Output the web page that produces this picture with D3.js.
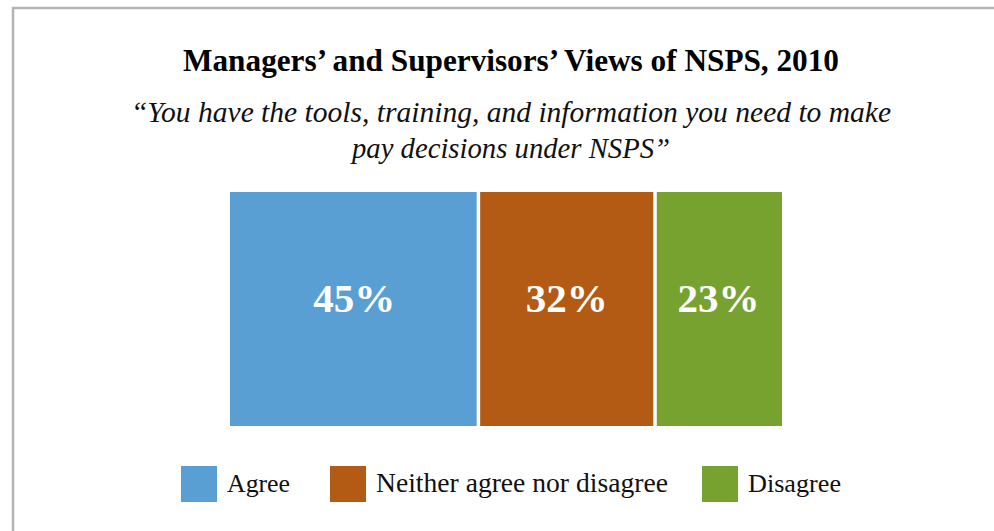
<!DOCTYPE html>
<html>
<head>
<meta charset="utf-8">
<script src="https://cdn.jsdelivr.net/npm/d3@7"></script>
<style>
  html, body { margin: 0; padding: 0; background: #fff; }
  svg { display: block; }
  text { font-family: "Liberation Serif", "Times New Roman", serif; }
</style>
</head>
<body>
<svg id="chart" width="994" height="531"></svg>
<script>
const titleText = "Managers\u2019 and Supervisors\u2019 Views of NSPS, 2010";
const subtitleLines = ["\u201CYou have the tools, training, and information you need to make", "pay decisions under NSPS\u201D"];
const categories = ["Agree", "Neither agree nor disagree", "Disagree"];
const values = [45, 32, 23];
const valueLabels = ["45%", "32%", "23%"];
const colors = ["#599fd4", "#b35b14", "#78a22f"];

const svg = d3.select("#chart");

// frame
svg.append("rect").attr("x", 13).attr("y", 8).attr("width", 1100).attr("height", 700)
  .attr("fill", "#fff").attr("stroke", "#b3b4b6").attr("stroke-width", 2.5);

function fit(sel, target) {
  let fs = parseFloat(sel.attr("font-size"));
  for (let i = 0; i < 4; i++) {
    const w = sel.node().getComputedTextLength();
    fs = fs * target / w;
    sel.attr("font-size", fs);
  }
}

const cx = 511;
const t = svg.append("text").attr("x", cx).attr("y", 71).attr("text-anchor", "middle")
  .attr("font-weight", "bold").attr("font-size", 28).attr("fill", "#000").text(titleText);
fit(t, 656);

const subW = [760, 318];
const subY = [122, 158];
subtitleLines.forEach((s, i) => {
  const st = svg.append("text").attr("x", cx).attr("y", subY[i]).attr("text-anchor", "middle")
    .attr("font-style", "italic").attr("font-size", 28).attr("fill", "#111").text(s);
  fit(st, subW[i]);
});

// bar
const x = d3.scaleLinear().domain([0, 100]).range([230, 782]);
const y = d3.scaleBand().domain(["NSPS"]).range([192, 426]).padding(0);
const stack = d3.stack().keys(categories)([Object.fromEntries(categories.map((c, i) => [c, values[i]]))]);
const gap = 1.75;
const segs = stack.map((s, i) => ({ key: s.key, i, x0: s[0][0], x1: s[0][1] }));

svg.append("g").selectAll("rect").data(segs).join("rect")
  .attr("x", d => x(d.x0) + (d.i > 0 ? gap : 0))
  .attr("width", d => x(d.x1) - x(d.x0) - (d.i > 0 ? gap : 0) - (d.i < segs.length - 1 ? gap : 0))
  .attr("y", y("NSPS"))
  .attr("height", y.bandwidth())
  .attr("fill", d => colors[d.i]);

svg.append("g").selectAll("text").data(segs).join("text")
  .attr("x", d => (x(d.x0) + x(d.x1)) / 2)
  .attr("y", y("NSPS") + y.bandwidth() / 2 + 3)
  .attr("text-anchor", "middle")
  .attr("font-weight", "bold").attr("font-size", 41).attr("fill", "#fff")
  .text(d => valueLabels[d.i]);

// legend
const legX = [181, 330, 702];
const legTextW = [63, 292, 93];
const lg = svg.append("g");
categories.forEach((c, i) => {
  lg.append("rect").attr("x", legX[i]).attr("y", 466).attr("width", 36).attr("height", 36).attr("fill", colors[i]);
  const lt = lg.append("text").attr("x", legX[i] + 46).attr("y", 492).attr("font-size", 26).attr("fill", "#111").text(c);
  fit(lt, legTextW[i]);
});
</script>
</body>
</html>
